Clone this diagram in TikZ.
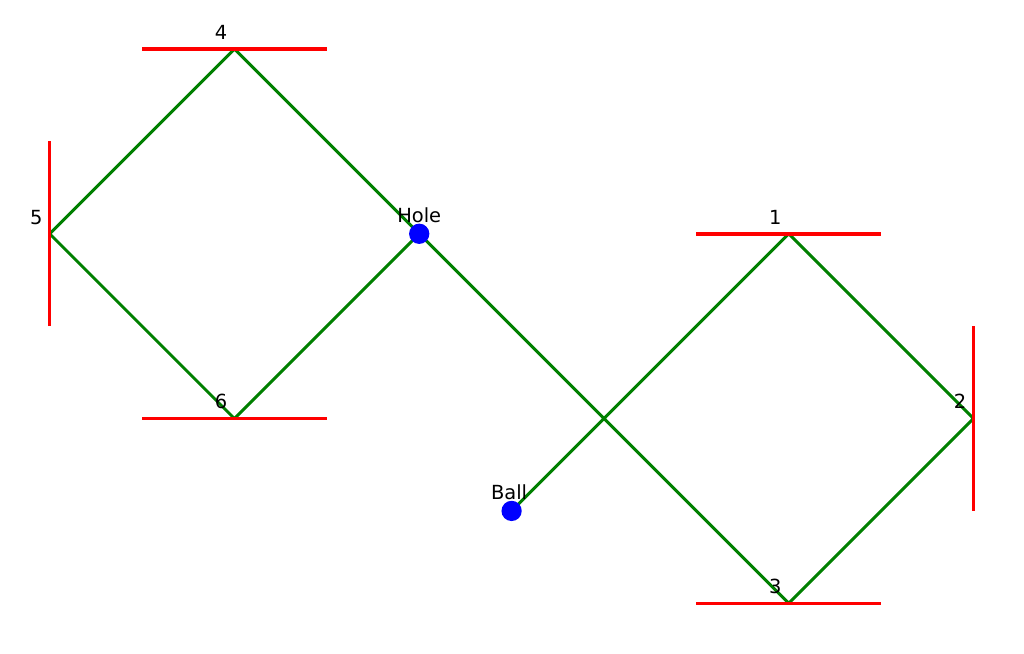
\documentclass[tikz,border=0pt]{standalone}
\usepackage{fontspec}
\setmainfont{DejaVu Sans}
\definecolor{mplgreen}{HTML}{008000}
\begin{document}
\begin{tikzpicture}[x=133.03pt,y=133.03pt,
  route/.style={draw=mplgreen, line width=2.1pt, line join=round, line cap=butt},
  wall/.style={draw=red, line width=2.5pt},
  dot/.style={circle, fill=blue, inner sep=0pt, minimum size=14.6pt},
  lbl/.style={anchor=base, font=\fontsize{14}{16}\selectfont, inner sep=0pt},
  numlbl/.style={lbl, xshift=-9.72pt, yshift=6.9pt}]
\fill[white] (-0.269,-0.2744) rectangle (5.2733,3.2653);
\useasboundingbox (-0.269,-0.2744) rectangle (5.2733,3.2653);
% points
\coordinate (p1) at (4,2);
\coordinate (p2) at (5,1);
\coordinate (p3) at (4,0);
\coordinate (p4) at (1,3);
\coordinate (p5) at (0,2);
\coordinate (p6) at (1,1);
\coordinate (hole) at (2,2);
\coordinate (ball) at (2.5,0.5);
% route
\draw[route] (ball) -- (p1) -- (p2) -- (p3) -- (hole) -- (p4) -- (p5) -- (p6) -- (hole);
% walls
\draw[wall] ([xshift=-66.5pt]p1) -- ([xshift=66.5pt]p1);
\draw[wall] ([yshift=-66.5pt]p2) -- ([yshift=66.5pt]p2);
\draw[wall] ([xshift=-66.5pt]p3) -- ([xshift=66.5pt]p3);
\draw[wall] ([xshift=-66.5pt]p4) -- ([xshift=66.5pt]p4);
\draw[wall] ([yshift=-66.5pt]p5) -- ([yshift=66.5pt]p5);
\draw[wall] ([xshift=-66.5pt]p6) -- ([xshift=66.5pt]p6);
% dots
\node[dot] (holedot) at (hole) {};
\node[dot] (balldot) at (ball) {};
% labels
\node[numlbl] (l1) at (p1) {1};
\node[numlbl] (l2) at (p2) {2};
\node[numlbl] (l3) at (p3) {3};
\node[numlbl] (l4) at (p4) {4};
\node[numlbl] (l5) at (p5) {5};
\node[numlbl] (l6) at (p6) {6};
\node[lbl, yshift=8.4pt] (lhole) at (hole) {Hole};
\node[lbl, xshift=-1.8pt, yshift=8.4pt] (lball) at (ball) {Ball};
\end{tikzpicture}
\end{document}
